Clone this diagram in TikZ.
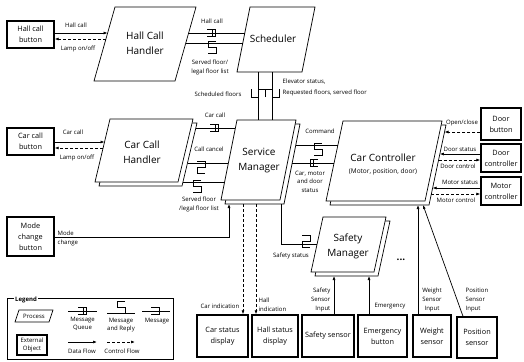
\documentclass[tikz,border=0pt]{standalone}
\usepackage{fontspec}
\setmainfont{Open Sans}
\usetikzlibrary{arrows.meta,calc}

\newcommand\fBig{\fontsize{10}{15}\selectfont}
\newcommand\fBox{\fontsize{7.3}{11}\selectfont}
\newcommand\fSm{\fontsize{6}{9}\selectfont}
\newcommand\fLg{\fontsize{6}{8}\selectfont}

\begin{document}
\begin{tikzpicture}[x=1pt,y=-1pt,line join=miter]
\useasboundingbox (0,0) rectangle (524,361);
\tikzset{
  ln/.style={line width=0.7pt},
  proc/.style={draw,line width=0.7pt,fill=white},
  ptext/.style={align=center,font=\fBig,inner sep=0pt},
  ext/.style={draw,line width=1.4pt,align=center,font=\fBox,inner sep=1pt},
  lbl/.style={font=\fSm,align=center,inner sep=0.5pt},
  data/.style={line width=0.7pt,-{Latex[length=4pt,width=3pt]}},
  ctrl/.style={data,dash pattern=on 3pt off 2pt},
  % message symbols
  mq/.pic={\draw[ln] (-5,-3.5) -- (3,-3.5) -- (3,3.5) -- (-5,3.5); \draw[ln] (0,-3.5) -- (0,3.5);},
  mqL/.pic={\draw[ln] (5,-3.5) -- (-3,-3.5) -- (-3,3.5) -- (5,3.5); \draw[ln] (0,-3.5) -- (0,3.5);},
  msg/.pic={\draw[ln] (-5,-3.5) -- (3,-3.5) -- (3,3.5) -- (-5,3.5);},
  sdn/.pic={\draw[ln] (4,-2) -- (-4,-2) -- (-4,4) -- (4,4) -- (4,10) -- (-4,10);},
  zdn/.pic={\draw[ln] (-4,-2) -- (4,-2) -- (4,4) -- (-4,4) -- (-4,10) -- (4,10);},
  zup/.pic={\draw[ln] (-4,-9) -- (4,-9) -- (4,-3) -- (-4,-3) -- (-4,3) -- (4,3);},
  sup/.pic={\draw[ln] (4,-12) -- (-4,-12) -- (-4,-6) -- (4,-6) -- (4,0) -- (-4,0);},
  vA/.pic={\draw[ln] (-7,-4) -- (-7,4) -- (0,4) -- (0,-4) -- (7,-4) -- (7,4);},
  vB/.pic={\draw[ln] (-7,4) -- (-7,-4) -- (0,-4) -- (0,4) -- (7,4) -- (7,-4);},
}

% ---------- processes ----------
\draw[proc] (115,7) -- (196,7) -- (175,81) -- (94,81) -- cycle;
\node[ptext] (hch) at (145,43) {Hall Call\\Handler};

\draw[proc] (250,7) -- (315,7) -- (302,72) -- (237,72) -- cycle;
\node[ptext] (sch) at (273,39) {Scheduler};

\draw[proc] (114,123) -- (197,123) -- (182,186) -- (99,186) -- cycle;
\draw[proc] (110,119) -- (193,119) -- (178,182) -- (95,182) -- cycle;
\node[ptext] (cch) at (142,152) {Car Call\\Handler};

\draw[proc] (241,124) -- (300,124) -- (284,204) -- (225,204) -- cycle;
\draw[proc] (237,120) -- (296,120) -- (280,200) -- (221,200) -- cycle;
\node[ptext] (sm) at (259,161) {Service\\Manager};

\draw[proc] (347,125) -- (446,125) -- (429,205) -- (330,205) -- cycle;
\draw[proc] (343,121) -- (442,121) -- (425,201) -- (326,201) -- cycle;
\node[ptext] (cc) at (383,158) {Car Controller};
\node[font=\fontsize{6.5}{8}\selectfont,inner sep=0pt] (ccsub) at (383,172) {(Motor, position, door)};

\draw[proc] (327,221) -- (390,221) -- (378,276) -- (315,276) -- cycle;
\draw[proc] (323,217) -- (386,217) -- (374,272) -- (311,272) -- cycle;
\node[ptext] (safm) at (348,246) {Safety\\Manager};
\node[font=\fontsize{10}{12}\selectfont\bfseries,inner sep=0pt] (dots) at (401,260) {...};

% ---------- connection points on process edges ----------
\coordinate (hch-in1) at (107.6,33);  \coordinate (hch-in2) at (105.9,39);
\coordinate (hch-o1) at (188.6,33);   \coordinate (hch-o2) at (185.8,43);
\coordinate (sch-i1) at (244.8,33);   \coordinate (sch-i2) at (242.8,43);
\coordinate (sch-b1) at (258,72);     \coordinate (sch-b2) at (272,72);
\coordinate (cch-in1) at (104.5,142); \coordinate (cch-in2) at (103.1,148);
\coordinate (cch-o1) at (195.8,128);  \coordinate (cch-o2) at (187.5,163);
\coordinate (cch-o3) at (183.0,182);
\coordinate (sm-i1) at (235.4,128);   \coordinate (sm-i2) at (228.4,163);
\coordinate (sm-i3) at (224.6,182);
\coordinate (sm-t1) at (258,120);     \coordinate (sm-t2) at (272,120);
\coordinate (sm-o1) at (295.8,145);   \coordinate (sm-o2) at (292.2,163);
\coordinate (sm-b1) at (229,204);     \coordinate (sm-b2) at (243,204);
\coordinate (sm-b3) at (256,204);     \coordinate (sm-b4) at (281,204);
\coordinate (cc-i1) at (337.9,145);   \coordinate (cc-i2) at (334.1,163);
\coordinate (cc-r1) at (444.5,132);   \coordinate (cc-r2) at (439.8,154);
\coordinate (cc-r3) at (438.6,160);   \coordinate (cc-r4) at (432.6,188);
\coordinate (cc-r5) at (431.3,194);
\coordinate (cc-b1) at (418,205);     \coordinate (cc-b2) at (423,205);
\coordinate (safm-i) at (317.1,244);
\coordinate (safm-b1) at (334,276);   \coordinate (safm-b2) at (369,276);

% ---------- external objects ----------
\node[ext,minimum width=47pt,minimum height=27pt] (hcb) at (30.5,34.5) {Hall call\\button};
\node[ext,minimum width=47pt,minimum height=27pt] (ccb) at (30.5,141.5) {Car call\\button};
\node[ext,minimum width=47pt,minimum height=39pt] (mcb) at (30.5,236.5) {Mode\\change\\button};
\node[ext,minimum width=40pt,minimum height=32pt] (db) at (501,124) {Door\\button};
\node[ext,minimum width=40pt,minimum height=28pt] (dc) at (501,158) {Door\\controller};
\node[ext,minimum width=40pt,minimum height=28pt] (mc) at (501,191) {Motor\\controller};
\node[ext,minimum width=51pt,minimum height=42pt] (csd) at (222.5,336) {Car status\\display};
\node[ext,minimum width=46pt,minimum height=42pt] (hsd) at (275,336) {Hall status\\display};
\node[ext,minimum width=52pt,minimum height=42pt] (ss) at (328,336) {Safety sensor};
\node[ext,minimum width=49pt,minimum height=42pt] (eb) at (382.5,336) {Emergency\\button};
\node[ext,minimum width=38pt,minimum height=42pt] (ws) at (432,336) {Weight\\sensor};
\node[ext,minimum width=40pt,minimum height=41pt] (ps) at (477,337.5) {Position\\sensor};

% ---------- flows to and from external objects ----------
\draw[data] ([yshift=1.5pt]hcb.east) -- (hch-in1);
\draw[ctrl] (hch-in2) -- ([yshift=-4.5pt]hcb.east);
\node[lbl] (l-hc) at (76,25) {Hall call};
\node[lbl] (l-lamp1) at (78,49) {Lamp on/off};

\draw[data] ([yshift=-0.5pt]ccb.east) -- (cch-in1);
\draw[ctrl] (cch-in2) -- ([yshift=-6.5pt]ccb.east);
\node[lbl] (l-cc) at (73,132) {Car call};
\node[lbl] (l-lamp2) at (77,158) {Lamp on/off};

\draw[data] ([yshift=-0.5pt]mcb.east) -| (sm-b1);
\node[lbl,align=left,anchor=west] (l-mode) at (57,238) {Mode\\change};

\draw[ctrl] ([yshift=-8pt]db.west) -- (cc-r1);
\node[lbl] (l-oc) at (462,123) {Open/close};
\draw[data] ([yshift=4pt]dc.west) -- (cc-r2);
\node[lbl] (l-ds) at (460,149) {Door status};
\draw[ctrl] (cc-r3) -- ([yshift=-2pt]dc.west);
\node[lbl] (l-dctl) at (458,166) {Door control};
\draw[data] ([yshift=3pt]mc.west) -- (cc-r4);
\node[lbl] (l-ms) at (460,182) {Motor status};
\draw[ctrl] (cc-r5) -- ([yshift=-3pt]mc.west);
\node[lbl] (l-mctl) at (456,200) {Motor control};

\draw[ctrl] (sm-b2) -- (sm-b2 |- csd.north);
\node[lbl,anchor=east] (l-ci) at (240,306) {Car indication};
\draw[ctrl] (sm-b3) -- (sm-b3 |- hsd.north);
\node[lbl,align=left,anchor=west] (l-hi) at (258,304.5) {Hall\\indication};

\draw[data] ([xshift=6pt]ss.north) -- (safm-b1);
\node[lbl,align=right,anchor=east] (l-ssi) at (331,300) {Safety\\Sensor\\Input};
\draw[data] ([xshift=-13.5pt]eb.north) -- (safm-b2);
\node[lbl] (l-em) at (390,306) {Emergency};
\draw[data] ([xshift=-14pt]ws.north) -- (cc-b1);
\node[lbl] (l-wsi) at (432,300) {Weight\\Sensor\\Input};
\draw[data] ([xshift=-14pt]ps.north) -- (cc-b2);
\node[lbl,align=left,anchor=west] (l-psi) at (465,300) {Position\\Sensor\\Input};

% ---------- messages between processes ----------
\draw[ln] (hch-o1) -- (sch-i1);  \pic at (212,33) {mq};
\draw[ln] (hch-o2) -- (sch-i2);  \pic at (212,43) {sdn};
\node[lbl] (l-hc2) at (212,21) {Hall call};
\node[lbl] (l-sf1) at (210,67.5) {Served floor/\\legal floor list};

\draw[ln] (sch-b1) -- (sm-t1);  \pic at (258,93) {vA};
\draw[ln] (sch-b2) -- (sm-t2);  \pic at (272,93) {vB};
\node[lbl] (l-sched) at (218,94) {Scheduled floors};
\node[lbl,anchor=west] (l-es) at (282,82) {Elevator status,};
\node[lbl,anchor=west] (l-rf) at (282,93) {Requested floors, served floor};

\draw[ln] (cch-o1) -- (sm-i1);  \pic at (215,128) {mq};
\draw[ln] (cch-o2) -- (sm-i2);  \pic at (201,163) {zdn};
\draw[ln] (cch-o3) -- (sm-i3);  \pic at (197,182) {sdn};
\node[lbl] (l-cc2) at (215,115) {Car call};
\node[lbl] (l-can) at (209,149) {Call cancel};
\node[lbl] (l-sf2) at (199,204.5) {Served floor\\/legal floor list};

\draw[ln] (sm-o1) -- (cc-i1);  \pic at (318,145) {sdn};
\draw[ln] (sm-o2) -- (cc-i2);  \pic at (313,163) {mqL};
\node[lbl] (l-cmd) at (320,131) {Command};
\node[lbl,font=\fontsize{6}{8.5}\selectfont] (l-st) at (310,181.5) {Car, motor\\and door\\status};

\draw[ln] (sm-b4) |- (safm-i);  \pic at (306,244) {zup};
\node[lbl] (l-ss) at (291,256) {Safety status};

% ---------- legend ----------
\draw[ln] (7,298) rectangle (173,359);
\node[font=\fLg\bfseries,fill=white,inner sep=1.5pt] (lg) at (26,300) {Legend};
\draw[proc] (19,310) -- (53,310) -- (49,322) -- (15,322) -- cycle;
\node[lbl] (lg-p) at (34,316) {Process};
\node[ext,font=\fLg,minimum width=30pt,minimum height=20pt] (lg-e) at (32,345) {External\\Object};
\draw[ln] (68,311) -- (97,311);  \pic at (83,311) {mq};
\node[lbl,font=\fLg] (lg-mq) at (82.5,324) {Message\\Queue};
\draw[ln] (107,313) -- (135,313);  \pic at (121,313) {sup};
\node[lbl,font=\fLg] (lg-mr) at (121,325) {Message\\and Reply};
\draw[ln] (142,311) -- (170,311);  \pic at (156,311) {msg};
\node[lbl,font=\fLg] (lg-m) at (157,321) {Message};
\draw[data] (68,342) -- (97,342);
\node[lbl,font=\fLg] (lg-d) at (82,351) {Data Flow};
\draw[ctrl] (107,342) -- (135,342);
\node[lbl,font=\fLg] (lg-c) at (122,351) {Control Flow};
\end{tikzpicture}
\end{document}
